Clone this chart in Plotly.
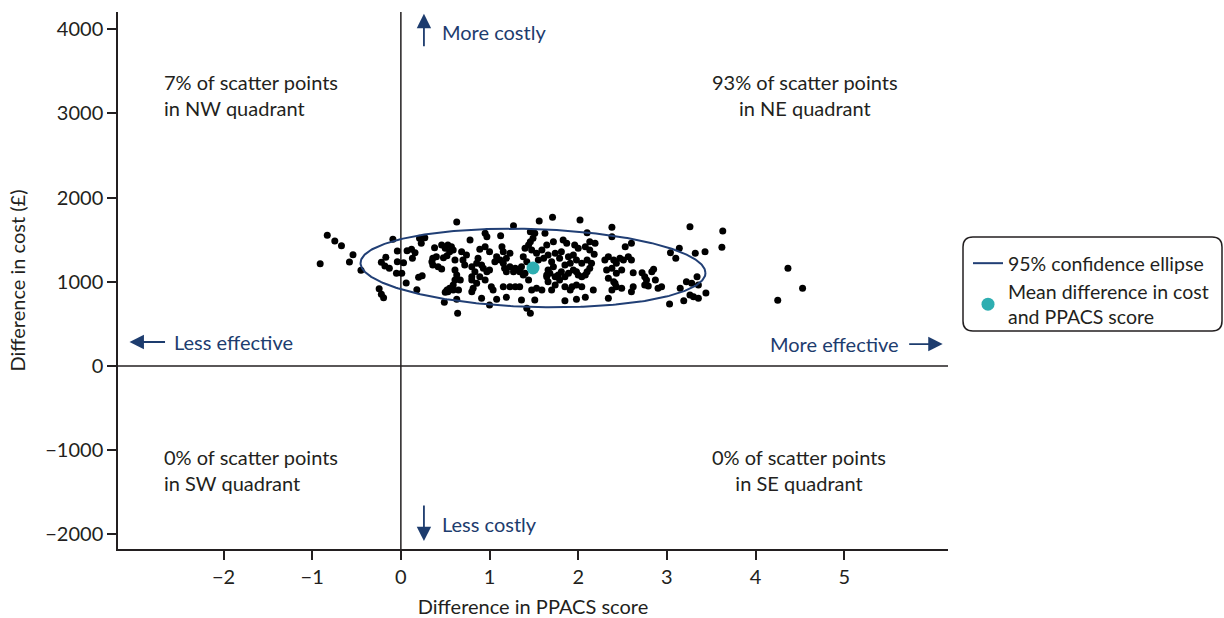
import numpy as np
import plotly.graph_objects as go

# Bootstrap scatter points: difference in PPACS score (x) and difference in cost (y, £)
ppacs_diff = [
    -0.83, -0.745, -0.67, -0.91, -0.54, -0.58, -0.45, -0.245, -0.22, -0.195,
    -0.09, -0.17, -0.22, -0.18, -0.13, -0.04, -0.04, 0.03, -0.05, 0.01,
    0.06, 0.18, 0.07, 0.12, 0.16, 0.13, 0.21, 0.27, 0.23, 0.20,
    0.24, 0.38, 0.46, 0.50, 0.36, 0.40, 0.48, 0.52, 0.36, 0.42,
    0.46, 0.52, 0.50, 0.49, 0.63, 0.53, 0.57, 0.59, 0.55, 0.35,
    0.61, 0.70, 0.72, 0.685, 0.74, 0.61, 0.63, 0.61, 0.59, 0.67,
    0.65, 0.59, 0.53, 0.55, 0.63, 0.64, 0.78, 0.80, 0.80, 1.27,
    1.56, 0.95, 0.97, 1.125, 1.46, 1.51, 1.49, 1.625, 1.46, 0.89,
    0.95, 1.00, 1.14, 1.155, 1.23, 1.08, 1.06, 1.12, 1.19, 1.40,
    1.44, 1.475, 1.53, 1.59, 1.645, 1.61, 1.55, 1.38, 1.42, 0.87,
    0.855, 0.91, 0.93, 0.835, 0.80, 0.89, 0.97, 1.00, 1.155, 1.17,
    1.23, 1.19, 1.27, 1.29, 1.32, 1.36, 1.34, 1.38, 1.40, 0.95,
    0.855, 0.815, 0.80, 1.02, 1.04, 1.155, 1.23, 1.29, 1.34, 1.44,
    1.475, 1.53, 1.59, 1.645, 1.66, 0.91, 1.08, 1.19, 1.36, 1.42,
    1.46, 1.51, 1.00, 1.71, 2.02, 2.38, 2.10, 1.72, 1.83, 1.87,
    1.96, 2.00, 2.08, 2.13, 2.19, 1.66, 1.74, 1.81, 1.79, 1.70,
    1.72, 1.645, 1.68, 1.89, 1.945, 1.98, 1.91, 1.85, 1.81, 1.775,
    1.74, 1.79, 1.85, 1.89, 1.945, 1.98, 2.00, 2.04, 2.10, 2.15,
    2.13, 2.10, 2.08, 2.04, 2.30, 2.34, 2.40, 2.43, 2.47, 2.51,
    2.32, 2.38, 2.34, 2.40, 2.43, 2.38, 2.34, 2.415, 1.66, 1.70,
    1.74, 1.85, 1.93, 1.98, 2.04, 1.91, 2.17, 1.85, 1.98, 2.08,
    3.26, 2.60, 2.53, 2.565, 2.60, 3.04, 3.14, 3.32, 3.10, 2.49,
    2.62, 2.72, 2.83, 2.85, 2.77, 2.75, 2.79, 2.87, 2.90, 2.94,
    2.62, 2.60, 2.49, 3.22, 3.28, 3.355, 3.34, 3.15, 3.26, 3.30,
    3.355, 3.19, 3.03, 3.63, 3.62, 3.43, 3.44, 4.365, 4.53, 4.25,
    2.13, 2.18, 2.38, 2.43, 2.75,
]
cost_diff = [
    1553, 1485, 1429, 1215, 1322, 1236, 1137, 918, 852, 811,
    1505, 1291, 1232, 1188, 1161, 1366, 1239, 1227, 1101, 1101,
    986, 906, 1370, 1386, 1346, 1279, 1517, 1524, 1458, 1054,
    1073, 1405, 1437, 1398, 1279, 1298, 1287, 1310, 1200, 1180,
    1152, 903, 876, 757, 1711, 1437, 1417, 1378, 1358, 1239,
    1259, 1259, 1200, 1358, 1319, 1140, 1081, 1022, 962, 1022,
    903, 903, 883, 923, 792, 626, 1497, 1022, 883, 1667,
    1723, 1576, 1536, 1548, 1595, 1576, 1517, 1576, 1477, 1386,
    1417, 1358, 1417, 1358, 1339, 1298, 1239, 1259, 1279, 1398,
    1437, 1378, 1339, 1378, 1437, 1279, 1259, 1298, 1239, 1279,
    1220, 1200, 1161, 1120, 1180, 1061, 1120, 1140, 1220, 1161,
    1180, 1120, 1120, 1161, 1140, 1180, 1120, 1081, 1101, 1022,
    982, 923, 1061, 942, 903, 942, 942, 942, 942, 1022,
    903, 923, 903, 1061, 1140, 804, 792, 816, 784, 685,
    626, 784, 725, 1767, 1734, 1648, 1584, 1477, 1497, 1458,
    1437, 1398, 1417, 1477, 1458, 1319, 1339, 1358, 1279, 1239,
    1180, 1081, 1101, 1298, 1319, 1259, 1220, 1200, 1120, 1081,
    1061, 1022, 1061, 1101, 1140, 1120, 1081, 1220, 1259, 1220,
    1161, 1120, 1081, 1061, 1259, 1298, 1259, 1220, 1279, 1259,
    1140, 1161, 1042, 1001, 942, 903, 804, 982, 1001, 903,
    962, 942, 942, 962, 942, 903, 903, 776, 792, 816,
    1655, 1458, 1417, 1298, 1259, 1346, 1398, 1339, 1279, 1140,
    1108, 1108, 1120, 1149, 1022, 962, 950, 1022, 923, 942,
    942, 883, 923, 1001, 982, 962, 1061, 923, 843, 823,
    804, 776, 737, 1604, 1410, 1358, 867, 1161, 923, 780,
    1378, 1327, 1536, 1101, 1061,
]

# Mean difference and 95% confidence ellipse parameters
mean_ppacs = 1.49
mean_cost = 1164
ellipse_semi_x = 1.945      # half-width in PPACS units
ellipse_semi_y = 463        # half-height in £
ellipse_shear = -59         # slight negative tilt (£ at ends)

x_ticks = [-2, -1, 0, 1, 2, 3, 4, 5]
x_tick_text = ["\u22122", "\u22121", "0", "1", "2", "3", "4", "5"]
y_ticks = [-2000, -1000, 0, 1000, 2000, 3000, 4000]
y_tick_text = ["\u22122000", "\u22121000", "0", "1000", "2000", "3000", "4000"]

X_RANGE = [-3.19, 6.17]
Y_RANGE = [-2173, 4204]

FONT = "Lato, 'Open Sans', sans-serif"
FS = 20
DARK = "#231f20"
NAVY = "#1d3c6e"
ELLIPSE_COL = "#213f75"
TEAL = "#2eaeb1"

t = np.linspace(0, 2 * np.pi, 400)
ell_x = mean_ppacs + ellipse_semi_x * np.cos(t)
ell_y = mean_cost + ellipse_semi_y * np.sin(t) + ellipse_shear * np.cos(t)

fig = go.Figure()
fig.add_trace(go.Scatter(
    x=ppacs_diff, y=cost_diff, mode="markers",
    marker=dict(color="black", size=7), showlegend=False, hoverinfo="skip"))
fig.add_trace(go.Scatter(
    x=ell_x, y=ell_y, mode="lines", line=dict(color=ELLIPSE_COL, width=2),
    name="95% confidence ellipse"))
fig.add_trace(go.Scatter(
    x=[mean_ppacs], y=[mean_cost], mode="markers",
    marker=dict(color=TEAL, size=13),
    name="Mean difference in cost<br>and PPACS score"))

# quadrant lines
fig.add_shape(type="line", x0=0, x1=0, y0=Y_RANGE[0], y1=Y_RANGE[1],
              line=dict(color=DARK, width=1.5), layer="below")
fig.add_shape(type="line", x0=X_RANGE[0], x1=X_RANGE[1], y0=0, y1=0,
              line=dict(color=DARK, width=1.5), layer="below")

# legend box (rounded)
x0, x1 = (963 - 118) / 830, (1222 - 118) / 830
y1, y0 = (549 - 237) / 537, (549 - 331) / 537
r = 0.012
ry = r * 830 / 537
path = (f"M {x0 + r},{y1} L {x1 - r},{y1} Q {x1},{y1} {x1},{y1 - ry} "
        f"L {x1},{y0 + ry} Q {x1},{y0} {x1 - r},{y0} L {x0 + r},{y0} "
        f"Q {x0},{y0} {x0},{y0 + ry} L {x0},{y1 - ry} Q {x0},{y1} {x0 + r},{y1} Z")
fig.add_shape(type="path", path=path, xref="paper", yref="paper",
              line=dict(color=DARK, width=1.5))

txt_font = dict(family=FONT, size=FS, color=DARK)
nav_font = dict(family=FONT, size=FS, color=NAVY)

quad_notes = [
    (-2.69, 3215, "7% of scatter points<br>in NW quadrant", "left"),
    (4.56, 3215, "93% of scatter points<br>in NE quadrant", "center"),
    (-2.69, -1230, "0% of scatter points<br>in SW quadrant", "left"),
    (4.49, -1230, "0% of scatter points<br>in SE quadrant", "center"),
]
for qx, qy, qt, qa in quad_notes:
    fig.add_annotation(x=qx, y=qy, text=qt, showarrow=False, xanchor=qa,
                       align=qa, font=txt_font)

# direction arrows
arrow_kw = dict(text="", showarrow=True, arrowhead=2, arrowsize=1.6,
                arrowwidth=1.8, arrowcolor=NAVY, axref="pixel", ayref="pixel")
fig.add_annotation(x=0.26, y=4182, ax=0, ay=34, **arrow_kw)
fig.add_annotation(x=0.26, y=-2079, ax=0, ay=-37, **arrow_kw)
fig.add_annotation(x=-3.06, y=285, ax=37, ay=0, **arrow_kw)
fig.add_annotation(x=6.11, y=261, ax=-35, ay=0, **arrow_kw)

fig.add_annotation(x=0.44, y=3968, text="More costly", showarrow=False,
                   xanchor="left", font=nav_font)
fig.add_annotation(x=0.44, y=-1878, text="Less costly", showarrow=False,
                   xanchor="left", font=nav_font)
fig.add_annotation(x=-2.585, y=290, text="Less effective", showarrow=False,
                   xanchor="left", font=nav_font)
fig.add_annotation(x=5.635, y=266, text="More effective", showarrow=False,
                   xanchor="right", font=nav_font)

fig.update_layout(
    width=1224, height=618,
    margin=dict(l=118, r=276, t=12, b=69, autoexpand=False),
    plot_bgcolor="white", paper_bgcolor="white",
    font=dict(family=FONT, size=FS, color=DARK),
    showlegend=True,
    legend=dict(x=(968 - 118) / 830, y=(549 - 244) / 537, xanchor="left",
                yanchor="top", bgcolor="rgba(0,0,0,0)", borderwidth=0,
                font=dict(family=FONT, size=19.5, color=DARK),
                tracegroupgap=0, itemwidth=30),
    xaxis=dict(range=X_RANGE, tickvals=x_ticks, ticktext=x_tick_text,
               showgrid=False, zeroline=False, showline=True, linecolor=DARK,
               linewidth=1.5, ticks="outside", ticklen=9, tickwidth=1.5,
               tickcolor=DARK, automargin=False,
               title=dict(text="Difference in PPACS score",
                          font=dict(size=FS), standoff=18)),
    yaxis=dict(range=Y_RANGE, tickvals=y_ticks, ticktext=y_tick_text,
               showgrid=False, zeroline=False, showline=True, linecolor=DARK,
               linewidth=1.5, ticks="outside", ticklen=9, tickwidth=1.5,
               tickcolor=DARK, automargin=False,
               title=dict(text="Difference in cost (\u00a3)",
                          font=dict(size=FS), standoff=14)),
)

fig.write_html("out.html", config={"displayModeBar": False},
               post_script="document.body.style.margin='0';")
